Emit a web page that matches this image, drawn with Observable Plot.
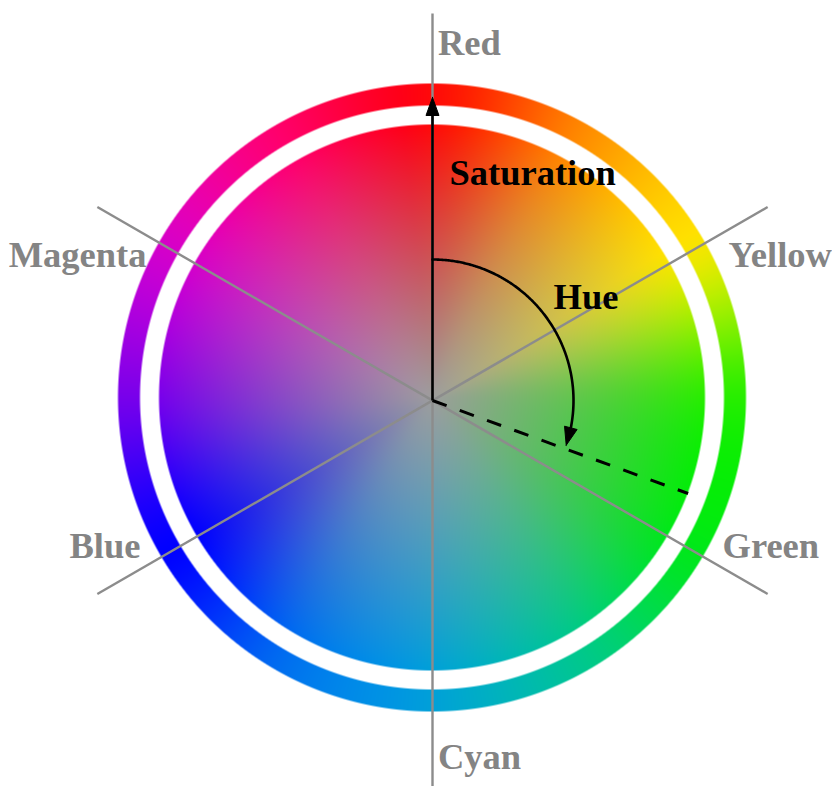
<!DOCTYPE html>
<html>
<head>
<meta charset="utf-8">
<script src="https://cdn.jsdelivr.net/npm/d3@7"></script>
<script src="https://cdn.jsdelivr.net/npm/@observablehq/plot@0.6"></script>
<style>
  html, body { margin: 0; padding: 0; background: white; }
</style>
</head>
<body>
<div id="chart"></div>
<script>
// ---- data ----
const hueNames = ["Red", "Yellow", "Green", "Cyan", "Blue", "Magenta"];
const hueAngles = [0, 60, 120, 180, 240, 300];           // degrees clockwise from top
const spokeAngles = [0, 60, 120];                          // lines through the centre
const ringStopAngles = [0, 30, 60, 90, 120, 150, 180, 210, 240, 270, 300, 330];
const ringStopColors = ["#ff0a0a", "#ff8c00", "#f8e400", "#28ee00", "#00e81a", "#00c88c",
                        "#00a0d8", "#006cf0", "#0000ff", "#7800eb", "#d600c8", "#ff006c"];
const centerGray = "#9d9d9d";
const exampleHue = 110;        // the dashed example direction
const hueArrowEnd = 108.5;     // where the hue arrow tip lands
const annotations = ["Saturation", "Hue"];

// ---- geometry helpers ----
const W = 832, H = 786;
const cx = -0.5, cy = 3;                  // wheel centre
const R_OUT = 314, R_IN = 292, R_DISK = 273;
const rad = d => d * Math.PI / 180;
const stopRGB = ringStopColors.map(c => { const k = d3.rgb(c); return [k.r, k.g, k.b]; });
const N = stopRGB.length;
const STEP = 360 / N;
function catmull(p0, p1, p2, p3, t) {
  const t2 = t * t, t3 = t2 * t;
  return 0.5 * ((2 * p1) + (-p0 + p2) * t + (2 * p0 - 5 * p1 + 4 * p2 - p3) * t2 + (-p0 + 3 * p1 - 3 * p2 + p3) * t3);
}
function hueColor(deg) {
  deg = ((deg % 360) + 360) % 360;
  const f = deg / STEP;
  const i = Math.floor(f) % N;
  const t = f - Math.floor(f);
  const p0 = stopRGB[(i - 1 + N) % N], p1 = stopRGB[i], p2 = stopRGB[(i + 1) % N], p3 = stopRGB[(i + 2) % N];
  return [0, 1, 2].map(k => Math.max(0, Math.min(255, catmull(p0[k], p1[k], p2[k], p3[k], t))));
}
const clamp = v => Math.max(0, Math.min(1, v));
const mix = (a, b, t) => [a[0] + (b[0] - a[0]) * t, a[1] + (b[1] - a[1]) * t, a[2] + (b[2] - a[2]) * t];
const gray = d3.rgb(centerGray);
const grayArr = [gray.r, gray.g, gray.b];
function wheelColor(x, y) {
  const dx = x - cx, dy = y - cy;
  const r = Math.hypot(dx, dy);
  const deg = Math.atan2(dx, dy) * 180 / Math.PI;
  const hc = hueColor(deg);
  const ring = clamp(R_OUT - r + 0.5) * clamp(r - R_IN + 0.5);
  const disk = clamp(R_DISK - r + 0.5);
  const s = Math.pow(Math.min(1, r / R_DISK), 1.05);
  const dc = mix(grayArr, hc, s);
  let col = [255, 255, 255];
  if (ring > 0) col = mix(col, hc, ring);
  if (disk > 0) col = mix(col, dc, disk);
  return `rgb(${Math.round(col[0])},${Math.round(col[1])},${Math.round(col[2])})`;
}

const SPOKE = 387;
const spokes = spokeAngles.map(a => ({
  x1: -SPOKE * Math.sin(rad(a)), y1: -SPOKE * Math.cos(rad(a)),
  x2: SPOKE * Math.sin(rad(a)), y2: SPOKE * Math.cos(rad(a))
}));

const labels = hueNames.map((name, i) => {
  const a = hueAngles[i];
  const vert = a % 180 === 0;
  const s = Math.sin(rad(a)), c = Math.cos(rad(a));
  return {
    name,
    x: vert ? 5.5 : 336 * s + (c > 0 ? 5 : -1),
    y: (vert ? 357 : 291) * c,
    anchor: (vert || s > 0) ? "start" : "end"
  };
});

// saturation arrow
const SAT_TIP = 303, HEAD_LEN = 18, HEAD_HALF = 6.5;
function head(tip, dir, id) {
  const len = Math.hypot(dir[0], dir[1]);
  const ux = dir[0] / len, uy = dir[1] / len;
  const bx = tip[0] - ux * HEAD_LEN, by = tip[1] - uy * HEAD_LEN;
  const px = -uy, py = ux;
  return [
    {x: tip[0], y: tip[1], id},
    {x: bx + px * HEAD_HALF, y: by + py * HEAD_HALF, id},
    {x: bx - px * HEAD_HALF, y: by - py * HEAD_HALF, id},
    {x: tip[0], y: tip[1], id}
  ];
}
const satLine = [{x1: 0, y1: 0, x2: 0, y2: SAT_TIP - HEAD_LEN + 2}];
// hue arc
const ARC_R = 141;
const headSpan = HEAD_LEN / ARC_R * 180 / Math.PI;
const arcEnd = hueArrowEnd - headSpan;
const arcPts = d3.range(0, arcEnd + 0.01, 0.5).concat([arcEnd + 0.5]).map(a => ({x: ARC_R * Math.sin(rad(a)), y: ARC_R * Math.cos(rad(a))}));
const arcTip = [ARC_R * Math.sin(rad(hueArrowEnd)), ARC_R * Math.cos(rad(hueArrowEnd))];
const arcBase = [ARC_R * Math.sin(rad(arcEnd)), ARC_R * Math.cos(rad(arcEnd))];
const heads = head([0, SAT_TIP], [0, 1], "sat").concat(head(arcTip, [arcTip[0] - arcBase[0], arcTip[1] - arcBase[1]], "hue"));
const DASH_R = 272;
const dashed = [{x1: 0, y1: 0, x2: DASH_R * Math.sin(rad(exampleHue)), y2: DASH_R * Math.cos(rad(exampleHue))}];

const annot = [
  {text: annotations[0], x: 17, y: 227.5},
  {text: annotations[1], x: 121, y: 103.5}
];

const serif = "'Liberation Serif', 'Times New Roman', Times, serif";

const chart = Plot.plot({
  width: W, height: H, margin: 0,
  x: {domain: [-432, 400], axis: null},
  y: {domain: [-386, 400], axis: null},
  color: {type: "identity"},
  style: {background: "white", fontFamily: serif},
  marks: [
    Plot.raster({
      x1: cx - 318.5, x2: cx + 318.5, y1: cy + 318, y2: cy - 318,
      fill: (x, y) => wheelColor(x, y),
      imageRendering: "auto"
    }),
    Plot.link(spokes, {x1: "x1", y1: "y1", x2: "x2", y2: "y2", stroke: "#8c8c8c", strokeWidth: 2.4}),
    Plot.link(dashed, {x1: "x1", y1: "y1", x2: "x2", y2: "y2", stroke: "black", strokeWidth: 3, strokeDasharray: "15,14"}),
    Plot.link(satLine, {x1: "x1", y1: "y1", x2: "x2", y2: "y2", stroke: "black", strokeWidth: 2.6}),
    Plot.line(arcPts, {x: "x", y: "y", stroke: "black", strokeWidth: 2.6, curve: "linear"}),
    Plot.line(heads, {x: "x", y: "y", z: "id", fill: "black", stroke: "black", strokeWidth: 1, curve: "linear-closed"}),
    Plot.text(labels.filter(d => d.anchor === "start"), {x: "x", y: "y", text: "name", textAnchor: "start", fontSize: 36.5, fontWeight: "bold", fill: "#848484", fontFamily: serif}),
    Plot.text(labels.filter(d => d.anchor === "end"), {x: "x", y: "y", text: "name", textAnchor: "end", fontSize: 36.5, fontWeight: "bold", fill: "#848484", fontFamily: serif}),
    Plot.text(annot, {x: "x", y: "y", text: "text", textAnchor: "start", fontSize: 36.5, fontWeight: "bold", fill: "black", fontFamily: serif})
  ]
});
document.getElementById("chart").appendChild(chart);
</script>
</body>
</html>
